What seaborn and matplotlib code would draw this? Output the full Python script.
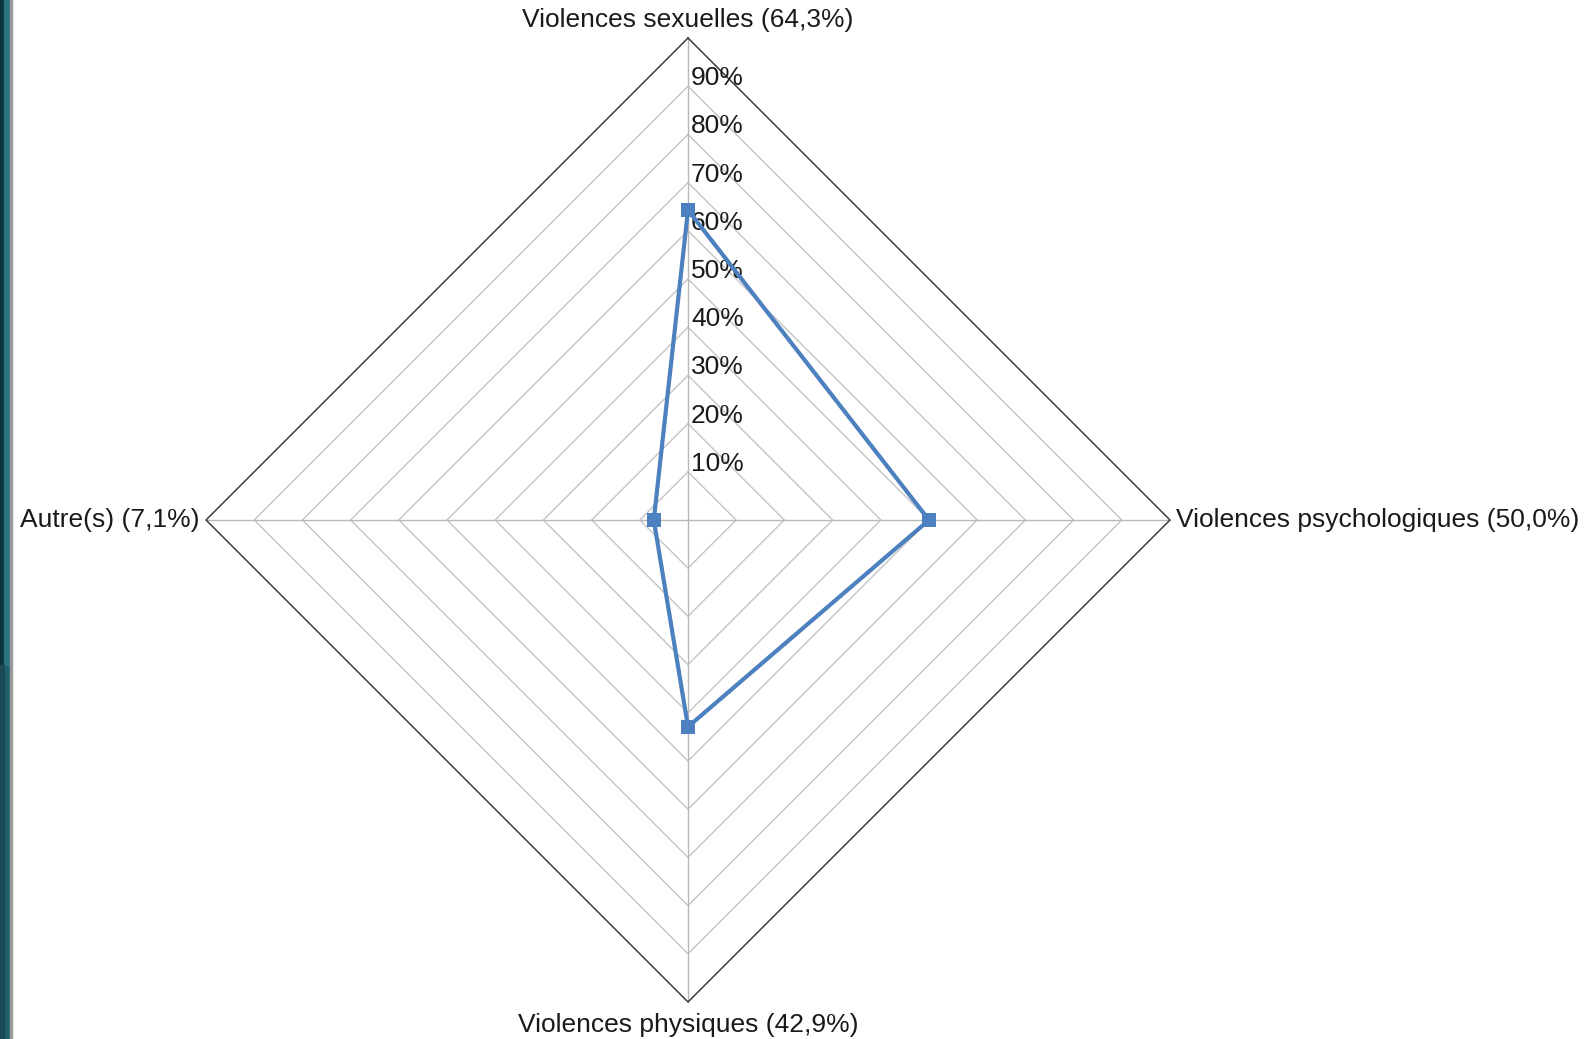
import numpy as np
import pandas as pd
import matplotlib
matplotlib.use("Agg")
import matplotlib.pyplot as plt
import seaborn as sns
from matplotlib.patches import Rectangle

categories = ["Violences sexuelles (64,3%)", "Violences psychologiques (50,0%)",
              "Violences physiques (42,9%)", "Autre(s) (7,1%)"]
values = [64.3, 50.0, 42.9, 7.1]
ring_levels = [10, 20, 30, 40, 50, 60, 70, 80, 90, 100]
tick_labels = ["10%", "20%", "30%", "40%", "50%", "60%", "70%", "80%", "90%"]

sns.set_theme(style="white")
plt.rcParams['font.family'] = ['Liberation Sans', 'DejaVu Sans']

W, H = 1590, 1039
fig = plt.figure(figsize=(W / 100, H / 100), dpi=100)
fig.patch.set_facecolor("white")

# left decorative strip (slide background)
fig.patches.append(Rectangle((0, 0), 10 / W, 1, transform=fig.transFigure, color="#22606b", zorder=0))
fig.patches.append(Rectangle((0, (H - 665) / H), 4 / W, 665 / H, transform=fig.transFigure, color="#0d3240", zorder=1))
fig.patches.append(Rectangle((4 / W, (H - 665) / H), 6 / W, 665 / H, transform=fig.transFigure, color="#2a7580", zorder=1))
fig.patches.append(Rectangle((0, 0), 4 / W, (H - 665) / H, transform=fig.transFigure, color="#1b4a55", zorder=1))
fig.patches.append(Rectangle((10 / W, 0), 1.5 / W, 1, transform=fig.transFigure, color="#9a9a9a", zorder=1))

ax = fig.add_axes([0, 0, 1, 1])
ax.set_axis_off()
cx, cy, R = 688, 520, 482
ax.set_xlim(-cx / R, (W - cx) / R)
ax.set_ylim(-(H - cy) / R, cy / R)
ax.set_aspect("equal")

n = len(categories)
angles = np.pi / 2 - np.arange(n) * 2 * np.pi / n

# grid rings
for lvl in ring_levels:
    r = lvl / 100
    xs = list(r * np.cos(angles)) + [r * np.cos(angles[0])]
    ys = list(r * np.sin(angles)) + [r * np.sin(angles[0])]
    if lvl == 100:
        ax.plot(xs, ys, color="#3a3a3a", lw=1.1, zorder=2)
    else:
        ax.plot(xs, ys, color="#c4c4c4", lw=1.0, zorder=1)
# spokes
for a in angles:
    ax.plot([0, np.cos(a)], [0, np.sin(a)], color="#b8b8b8", lw=1.0, zorder=1)

FS = 19
# tick labels
for lvl, lab in zip(ring_levels[:-1], tick_labels):
    ax.text(3 / R, lvl / 100 + 8 / R, lab, ha="left", va="center", fontsize=FS, color="#1a1a1a", zorder=3)

# data polygon
r = np.array(values) / 100
df = pd.DataFrame({
    "x": list(r * np.cos(angles)) + [r[0] * np.cos(angles[0])],
    "y": list(r * np.sin(angles)) + [r[0] * np.sin(angles[0])],
})
sns.lineplot(data=df, x="x", y="y", sort=False, ax=ax, color="#4d80bf", lw=3,
             marker="s", markersize=10, markeredgewidth=0, zorder=5, estimator=None)
ax.set_xlabel("")
ax.set_ylabel("")

# category labels
off = 6 / R
ax.text(0, 1 + 18 / R, categories[0], ha="center", va="center", fontsize=FS, color="#1a1a1a")
ax.text(1 + off, 0, categories[1], ha="left", va="center", fontsize=FS, color="#1a1a1a")
ax.text(0, -1 - 23 / R, categories[2], ha="center", va="center", fontsize=FS, color="#1a1a1a")
ax.text(-1 - off, 0, categories[3], ha="right", va="center", fontsize=FS, color="#1a1a1a")

fig.savefig("out.png", dpi=100, facecolor="white")
